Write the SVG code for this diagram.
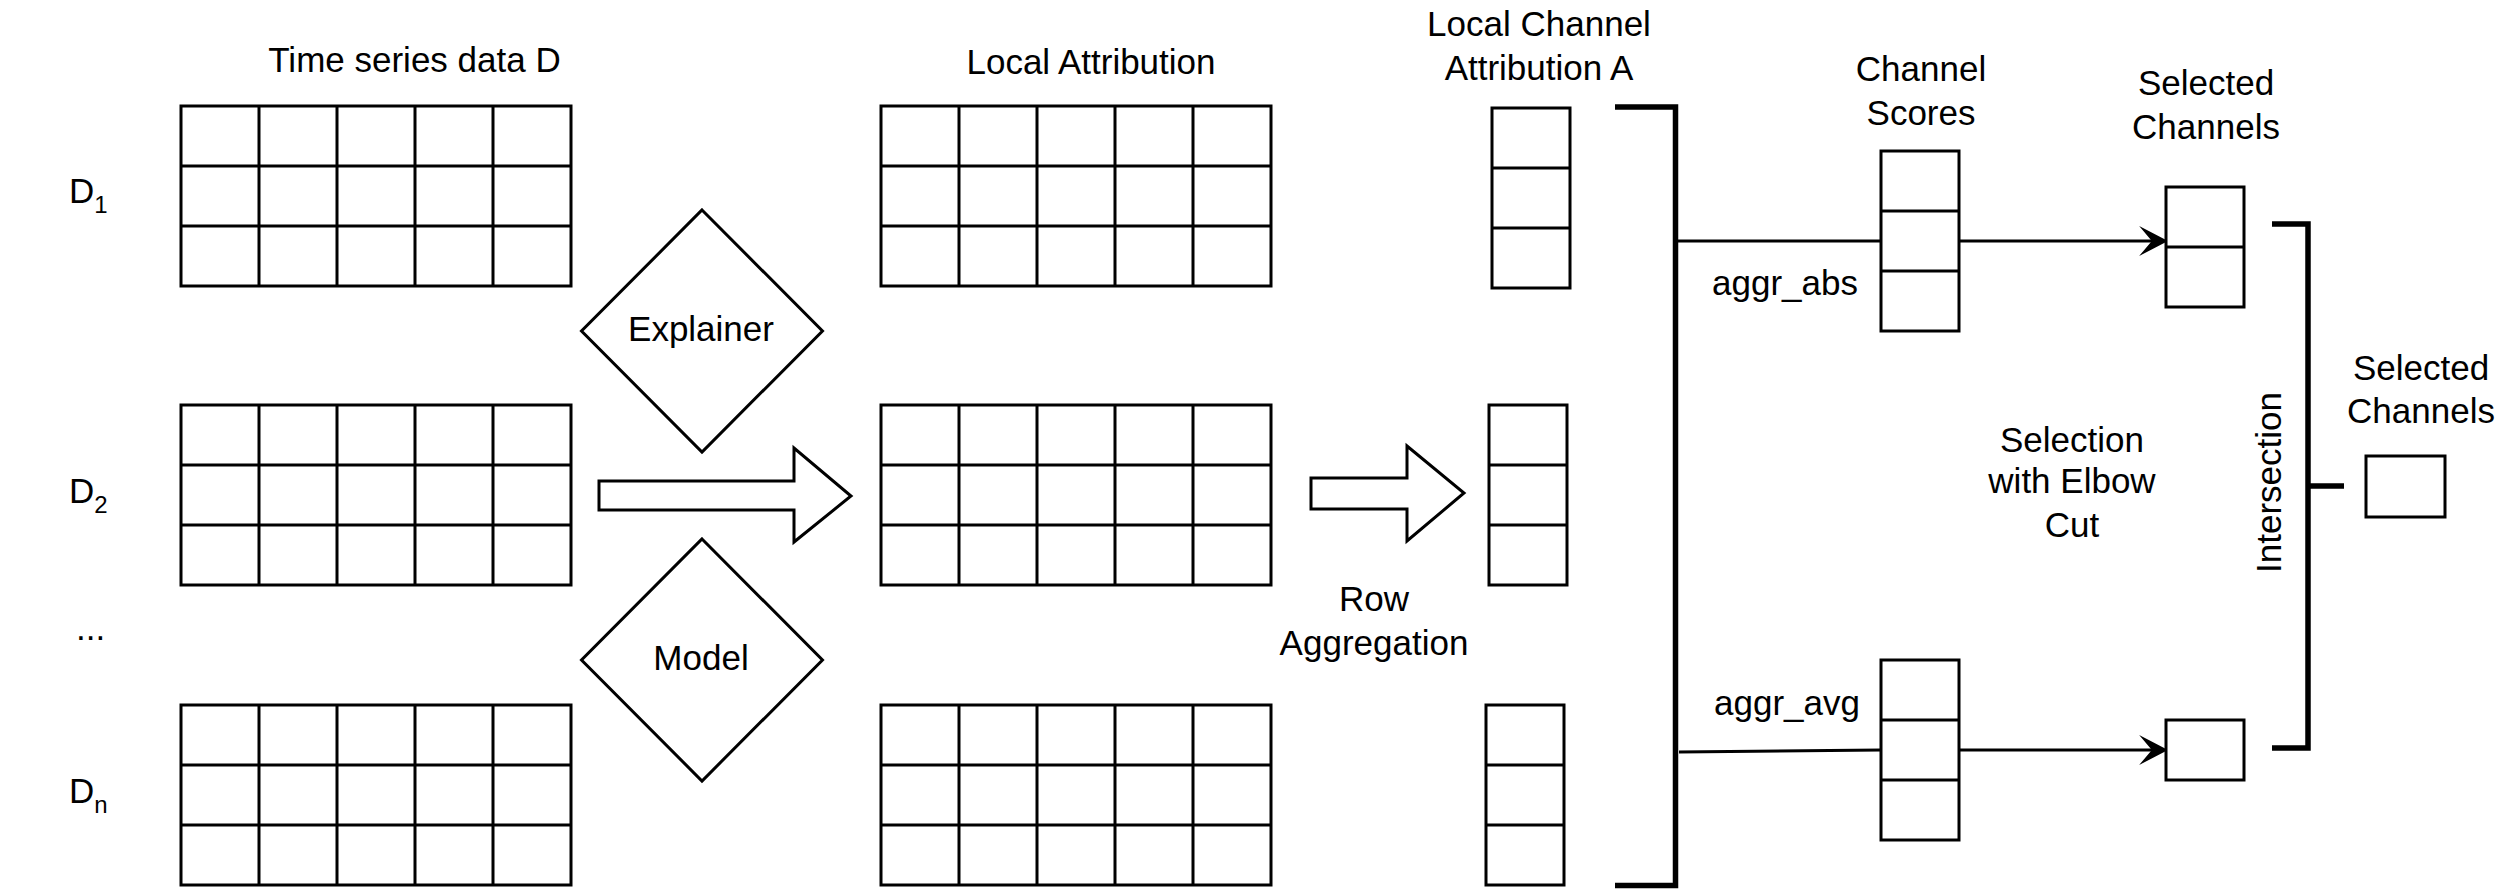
<svg xmlns="http://www.w3.org/2000/svg" xmlns:xlink="http://www.w3.org/1999/xlink" width="2513" height="896" viewBox="0 0 2513 896">
<style>
.s{fill:#fff;stroke:#000;stroke-width:3}
.ln{fill:none;stroke:#000;stroke-width:3}
.br{fill:none;stroke:#000;stroke-width:5.5}
text{font-family:"Liberation Sans",Arial,Helvetica,sans-serif;font-size:35px;fill:#000}
.c{text-anchor:middle}
</style>
<defs>
<symbol id="grid" overflow="visible">
<rect class="s" x="0" y="0" width="390" height="180"/>
<path class="ln" d="M78,0V180M156,0V180M234,0V180M312,0V180M0,60H390M0,120H390"/>
</symbol>
<symbol id="col3" overflow="visible">
<rect class="s" x="0" y="0" width="78" height="180"/>
<path class="ln" d="M0,60H78M0,120H78"/>
</symbol>
<symbol id="col2" overflow="visible">
<rect class="s" x="0" y="0" width="78" height="120"/>
<path class="ln" d="M0,60H78"/>
</symbol>
<marker id="ah" markerUnits="userSpaceOnUse" markerWidth="30" markerHeight="30" viewBox="0 0 26 26" refX="12" refY="13" orient="auto">
<path d="M0,0L25,13L0,26L11,13Z" fill="#000"/>
</marker>
</defs>

<g id="labels-left">
<text x="69" y="203">D<tspan font-size="24" dy="10">1</tspan></text>
<text x="69" y="503">D<tspan font-size="24" dy="10">2</tspan></text>
<text x="76" y="640">...</text>
<text x="69" y="803">D<tspan font-size="24" dy="10">n</tspan></text>
<text class="c" x="414.5" y="72">Time series data D</text>
</g>

<g id="data-d1"><use xlink:href="#grid" x="181" y="106"/></g>
<g id="data-d2"><use xlink:href="#grid" x="181" y="405"/></g>
<g id="data-dn"><use xlink:href="#grid" x="181" y="705"/></g>

<g id="explainer">
<polygon class="s" points="702,210 822.5,331 702,452 581.5,331"/>
<text class="c" x="701" y="341">Explainer</text>
</g>
<g id="model">
<polygon class="s" points="702,539 822.5,660 702,781 581.5,660"/>
<text class="c" x="701" y="670">Model</text>
</g>

<g id="arrow-explain">
<polygon class="s" points="599,481 794,481 794,448 851,496 794,542 794,510 599,510"/>
</g>

<g id="local-attribution">
<text class="c" x="1091" y="74">Local Attribution</text>
<use xlink:href="#grid" x="881" y="106"/>
<use xlink:href="#grid" x="881" y="405"/>
<use xlink:href="#grid" x="881" y="705"/>
</g>

<g id="arrow-row-aggregation">
<polygon class="s" points="1311,478 1407,478 1407,446 1464,493 1407,541 1407,509 1311,509"/>
<text class="c" x="1374" y="611">Row</text>
<text class="c" x="1374" y="655">Aggregation</text>
</g>

<g id="local-channel-attribution">
<text class="c" x="1539" y="36">Local Channel</text>
<text class="c" x="1539" y="80">Attribution A</text>
<use xlink:href="#col3" x="1492" y="108"/>
<use xlink:href="#col3" x="1489" y="405"/>
<use xlink:href="#col3" x="1486" y="705"/>
</g>

<g id="bracket-left">
<path class="br" d="M1615,107H1675.5V885.5H1615"/>
</g>

<g id="connectors">
<path class="ln" d="M1677,241H1881"/>
<path class="ln" d="M1679,752L1881,750"/>
<path class="ln" d="M1960,241H2153" marker-end="url(#ah)"/>
<path class="ln" d="M1960,750H2153" marker-end="url(#ah)"/>
</g>

<g id="channel-scores">
<text class="c" x="1921" y="81">Channel</text>
<text class="c" x="1921" y="125">Scores</text>
<use xlink:href="#col3" x="1881" y="151"/>
<use xlink:href="#col3" x="1881" y="660"/>
<text class="c" x="1785" y="295">aggr_abs</text>
<text class="c" x="1787" y="715">aggr_avg</text>
</g>

<g id="selection-label">
<text class="c" x="2072" y="452">Selection</text>
<text class="c" x="2072" y="493">with Elbow</text>
<text class="c" x="2072" y="537">Cut</text>
</g>

<g id="selected-channels">
<text class="c" x="2206" y="95">Selected</text>
<text class="c" x="2206" y="139">Channels</text>
<use xlink:href="#col2" x="2166" y="187"/>
<rect class="s" x="2166" y="720" width="78" height="60"/>
</g>

<g id="intersection">
<path class="br" d="M2272,224H2308V748H2272M2308,486H2344"/>
<text class="c" transform="translate(2281,482.5) rotate(-90)" x="0" y="0">Intersection</text>
</g>

<g id="final-selected">
<text class="c" x="2421" y="380">Selected</text>
<text class="c" x="2421" y="423">Channels</text>
<rect class="s" x="2366" y="456" width="79" height="61"/>
</g>
</svg>
